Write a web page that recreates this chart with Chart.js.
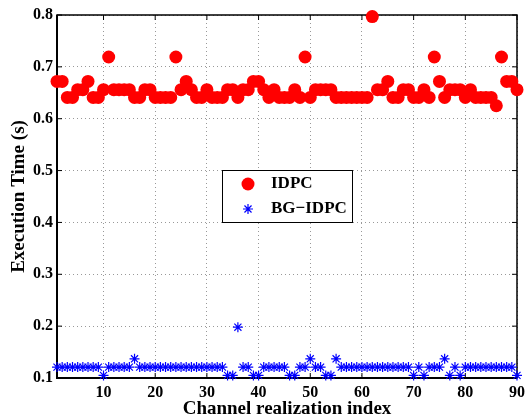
<!DOCTYPE html>
<html>
<head>
<meta charset="utf-8">
<title>Execution Time</title>
<script src="https://cdn.jsdelivr.net/npm/chart.js@4.4.1/dist/chart.umd.min.js"></script>
<style>
  html, body { margin: 0; padding: 0; background: #fff; }
  #caixa { width: 530px; height: 420px; }
</style>
</head>
<body>
<div id="caixa"><canvas id="grafico" width="530" height="420"></canvas></div>
<script>
// indice de cada realizacao do canal
const realizacoes = [
  1, 2, 3, 4, 5, 6, 7, 8, 9, 10,
  11, 12, 13, 14, 15, 16, 17, 18, 19, 20,
  21, 22, 23, 24, 25, 26, 27, 28, 29, 30,
  31, 32, 33, 34, 35, 36, 37, 38, 39, 40,
  41, 42, 43, 44, 45, 46, 47, 48, 49, 50,
  51, 52, 53, 54, 55, 56, 57, 58, 59, 60,
  61, 62, 63, 64, 65, 66, 67, 68, 69, 70,
  71, 72, 73, 74, 75, 76, 77, 78, 79, 80,
  81, 82, 83, 84, 85, 86, 87, 88, 89, 90
];

// tempo de execucao (s)
const tempoIDPC = [
  0.672, 0.672, 0.641, 0.641, 0.656, 0.656, 0.672, 0.641, 0.641, 0.656,
  0.719, 0.656, 0.656, 0.656, 0.656, 0.641, 0.641, 0.656, 0.656, 0.641,
  0.641, 0.641, 0.641, 0.719, 0.656, 0.672, 0.656, 0.641, 0.641, 0.656,
  0.641, 0.641, 0.641, 0.656, 0.656, 0.641, 0.656, 0.656, 0.672, 0.672,
  0.656, 0.641, 0.656, 0.641, 0.641, 0.641, 0.656, 0.641, 0.719, 0.641,
  0.656, 0.656, 0.656, 0.656, 0.641, 0.641, 0.641, 0.641, 0.641, 0.641,
  0.641, 0.797, 0.656, 0.656, 0.672, 0.641, 0.641, 0.656, 0.656, 0.641,
  0.641, 0.656, 0.641, 0.719, 0.672, 0.641, 0.656, 0.656, 0.656, 0.641,
  0.656, 0.641, 0.641, 0.641, 0.641, 0.625, 0.719, 0.672, 0.672, 0.656
];

const tempoBGIDPC = [
  0.121, 0.121, 0.121, 0.121, 0.121, 0.121, 0.121, 0.121, 0.121, 0.105,
  0.121, 0.121, 0.121, 0.121, 0.121, 0.137, 0.121, 0.121, 0.121, 0.121,
  0.121, 0.121, 0.121, 0.121, 0.121, 0.121, 0.121, 0.121, 0.121, 0.121,
  0.121, 0.121, 0.121, 0.105, 0.105, 0.198, 0.121, 0.121, 0.105, 0.105,
  0.121, 0.121, 0.121, 0.121, 0.121, 0.105, 0.105, 0.121, 0.121, 0.137,
  0.121, 0.121, 0.105, 0.105, 0.137, 0.121, 0.121, 0.121, 0.121, 0.121,
  0.121, 0.121, 0.121, 0.121, 0.121, 0.121, 0.121, 0.121, 0.121, 0.105,
  0.121, 0.105, 0.121, 0.121, 0.121, 0.137, 0.105, 0.121, 0.105, 0.121,
  0.121, 0.121, 0.121, 0.121, 0.121, 0.121, 0.121, 0.121, 0.121, 0.105
];

const ticksX = [10, 20, 30, 40, 50, 60, 70, 80, 90];
const ticksY = [0.1, 0.2, 0.3, 0.4, 0.5, 0.6, 0.7, 0.8];

const fonte = "'Liberation Serif', 'Times New Roman', serif";

const paraPontos = (valores) => realizacoes.map((x, i) => ({ x: x, y: valores[i] }));

// moldura preta com marcas de escala para dentro (nos quatro lados)
const moldura = {
  id: 'moldura',
  beforeDatasetsDraw(chart) {
    const { ctx, chartArea: a, scales } = chart;
    const tam = 5;
    ctx.save();
    ctx.strokeStyle = '#000';
    ctx.lineWidth = 1;
    ctx.beginPath();
    ticksX.forEach(v => {
      const px = scales.x.getPixelForValue(v);
      ctx.moveTo(px, a.bottom); ctx.lineTo(px, a.bottom - tam);
      ctx.moveTo(px, a.top); ctx.lineTo(px, a.top + tam);
    });
    ticksY.forEach(v => {
      const py = scales.y.getPixelForValue(v);
      ctx.moveTo(a.left, py); ctx.lineTo(a.left + tam, py);
      ctx.moveTo(a.right, py); ctx.lineTo(a.right - tam, py);
    });
    ctx.stroke();
    ctx.lineWidth = 1.5;
    ctx.strokeRect(a.left, a.top, a.right - a.left, a.bottom - a.top);
    // eixos esquerdo e inferior um pouco mais grossos
    ctx.lineWidth = 2;
    ctx.beginPath();
    ctx.moveTo(a.left, a.top); ctx.lineTo(a.left, a.bottom); ctx.lineTo(a.right, a.bottom);
    ctx.stroke();
    ctx.restore();
  }
};

// legenda dentro da area do grafico
const legenda = {
  id: 'legenda',
  afterDraw(chart) {
    const { ctx } = chart;
    const x0 = 222, y0 = 170, w = 130, h = 52;
    const sets = chart.data.datasets;
    ctx.save();
    ctx.fillStyle = '#fff';
    ctx.fillRect(x0, y0, w, h);
    ctx.strokeStyle = '#000';
    ctx.lineWidth = 1;
    ctx.strokeRect(x0 + 0.5, y0 + 0.5, w, h);

    // IDPC
    ctx.fillStyle = sets[0].backgroundColor;
    ctx.beginPath();
    ctx.arc(x0 + 26, y0 + 14, sets[0].pointRadius, 0, Math.PI * 2);
    ctx.fill();

    // BG-IDPC (asterisco)
    const cx = x0 + 26, cy = y0 + 39, r = sets[1].pointRadius;
    ctx.strokeStyle = sets[1].borderColor;
    ctx.lineWidth = sets[1].borderWidth;
    ctx.beginPath();
    ctx.moveTo(cx - r, cy); ctx.lineTo(cx + r, cy);
    ctx.moveTo(cx, cy - r); ctx.lineTo(cx, cy + r);
    const d = r * Math.SQRT1_2;
    ctx.moveTo(cx - d, cy - d); ctx.lineTo(cx + d, cy + d);
    ctx.moveTo(cx - d, cy + d); ctx.lineTo(cx + d, cy - d);
    ctx.stroke();

    ctx.fillStyle = '#000';
    ctx.font = 'bold 17px ' + fonte;
    ctx.textBaseline = 'middle';
    ctx.textAlign = 'left';
    ctx.fillText(sets[0].label, x0 + 49, y0 + 14);
    ctx.fillText(sets[1].label, x0 + 49, y0 + 39);
    ctx.restore();
  }
};

const ctx = document.getElementById('grafico');

new Chart(ctx, {
  type: 'scatter',
  data: {
    datasets: [
      {
        label: 'IDPC',
        data: paraPontos(tempoIDPC),
        pointStyle: 'circle',
        pointRadius: 6.5,
        backgroundColor: '#ff0000',
        borderColor: '#ff0000',
        borderWidth: 0,
        clip: false
      },
      {
        label: 'BG\u2212IDPC',
        data: paraPontos(tempoBGIDPC),
        pointStyle: 'star',
        pointRadius: 5,
        backgroundColor: '#0000ff',
        borderColor: '#0000ff',
        borderWidth: 1.2,
        clip: false
      }
    ]
  },
  options: {
    responsive: false,
    animation: false,
    devicePixelRatio: 1,
    layout: { padding: { left: 0, right: 5, top: 15, bottom: 0 } },
    plugins: {
      legend: { display: false },
      tooltip: { enabled: false }
    },
    scales: {
      x: {
        type: 'linear',
        min: 1,
        max: 90,
        afterBuildTicks: (s) => { s.ticks = ticksX.map(v => ({ value: v })); },
        afterFit: (s) => { s.height = 42; },
        ticks: {
          color: '#000',
          padding: 5,
          maxRotation: 0,
          autoSkip: false,
          font: { family: fonte, size: 16, weight: 'bold' }
        },
        grid: { color: 'rgba(0,0,0,0.4)', lineWidth: 1, drawTicks: false, tickLength: 0 },
        border: { display: false, dash: [1, 3] },
        title: {
          display: true,
          text: 'Channel realization index',
          color: '#000',
          padding: { top: 0, bottom: 0 },
          font: { family: fonte, size: 19, weight: 'bold' }
        }
      },
      y: {
        type: 'linear',
        min: 0.1,
        max: 0.8,
        afterBuildTicks: (s) => { s.ticks = ticksY.map(v => ({ value: v })); },
        afterFit: (s) => { s.width = 57; },
        ticks: {
          color: '#000',
          padding: 4,
          callback: (v) => Number(v).toFixed(1),
          font: { family: fonte, size: 16, weight: 'bold' }
        },
        grid: { color: 'rgba(0,0,0,0.4)', lineWidth: 1, drawTicks: false, tickLength: 0 },
        border: { display: false, dash: [1, 3] },
        title: {
          display: true,
          text: 'Execution Time (s)',
          color: '#000',
          padding: { top: 8, bottom: 0 },
          font: { family: fonte, size: 19, weight: 'bold' }
        }
      }
    }
  },
  plugins: [moldura, legenda]
});
</script>
</body>
</html>
